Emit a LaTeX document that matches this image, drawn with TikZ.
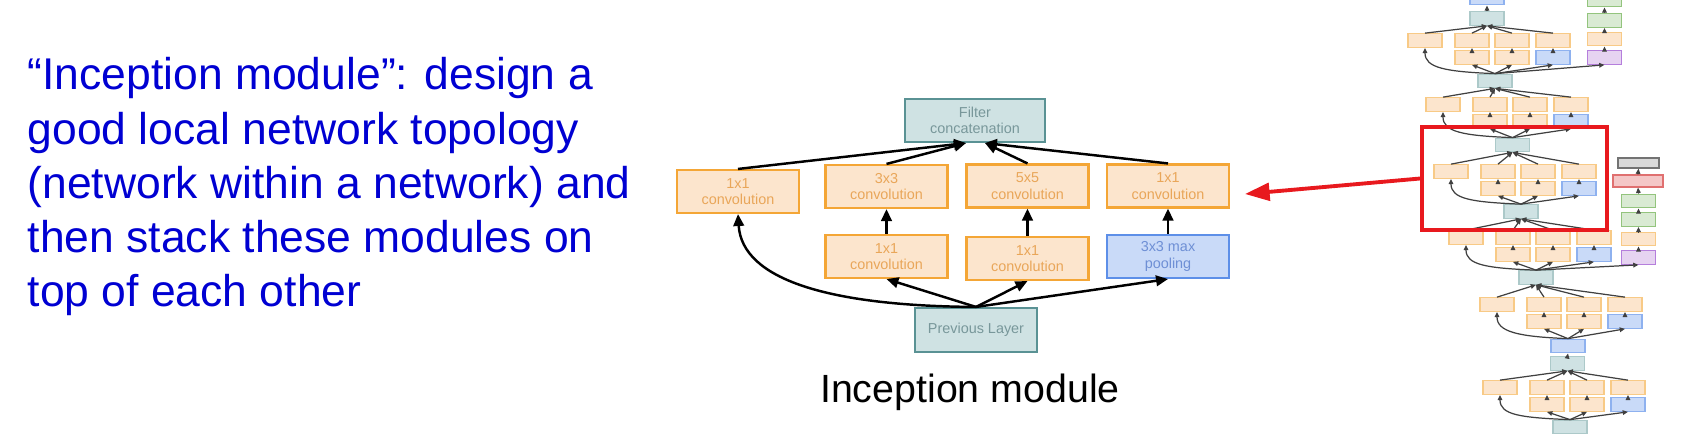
\documentclass[tikz,border=0pt]{standalone}
\usepackage{fontspec}
\setmainfont{Liberation Sans}
\usetikzlibrary{arrows.meta}

\definecolor{convfill}{HTML}{FCE5CD}
\definecolor{convline}{HTML}{F4A636}
\definecolor{convtext}{HTML}{E9A659}
\definecolor{catfill}{HTML}{CFE2E3}
\definecolor{catline}{HTML}{5A9294}
\definecolor{cattext}{HTML}{78979A}
\definecolor{poolfill}{HTML}{C9DAF8}
\definecolor{poolline}{HTML}{5D8FE8}
\definecolor{pooltext}{HTML}{6E8FD5}
\definecolor{slideblue}{HTML}{0000D2}
\definecolor{markred}{HTML}{E8191E}
\definecolor{tgreenfill}{HTML}{D9EAD3}
\definecolor{tgreenline}{HTML}{93C47D}
\definecolor{tpurpfill}{HTML}{E6D3F1}
\definecolor{tpurpline}{HTML}{B57EDC}
\definecolor{tpinkfill}{HTML}{F4C7C7}
\definecolor{tpinkline}{HTML}{E07070}

\begin{document}
\begin{tikzpicture}[x=0.1mm,y=-0.1mm]
	\tikzstyle{every node}+=[inner sep=0pt]
	\tikzstyle{conv}=[draw=convline,fill=convfill,text=convtext,line width=0.6pt,minimum width=12.2mm,minimum height=4.3mm,align=center,font=\fontsize{4.1}{4.7}\selectfont]
	\tikzstyle{maxpool}=[conv,draw=poolline,fill=poolfill,text=pooltext]
	\tikzstyle{concat}=[conv,draw=catline,fill=catfill,text=cattext]
	\tikzstyle{arr}=[line width=0.7pt,-{Triangle[length=3.4pt,width=3pt]}]
	\tikzstyle{tconv}=[draw=convline!60,fill=convfill,line width=0.35pt,minimum width=3.4mm,minimum height=1.35mm]
	\tikzstyle{tpool}=[tconv,draw=poolline!70,fill=poolfill]
	\tikzstyle{tcat}=[tconv,draw=catline!50,fill=catfill]
	\tikzstyle{tgreen}=[tconv,draw=tgreenline,fill=tgreenfill]
	\tikzstyle{tpurp}=[tconv,draw=tpurpline,fill=tpurpfill]
	\tikzstyle{tarr}=[black!75,line width=0.35pt,-{Triangle[length=1.5pt,width=1.3pt]}]
	\useasboundingbox (0,0) rectangle (1703,435);

	% slide text
	\node[anchor=north west,align=left,text=slideblue,font=\fontsize{12.65}{15.4}\selectfont] (desc) at (27,57) {``Inception module'': design a\\good local network topology\\(network within a network) and\\then stack these modules on\\top of each other};
	\node[anchor=base,font=\fontsize{11.2}{13}\selectfont] (caption) at (970,402) {Inception module};

	% inception module
	\node[concat,minimum width=14mm] (fc) at (975,120.5) {Filter\\concatenation};
	\node[conv] (c1) at (738,191.5) {1x1\\convolution};
	\node[conv] (c3) at (886.5,186.5) {3x3\\convolution};
	\node[conv] (c5) at (1027.5,186) {5x5\\convolution};
	\node[conv] (cp) at (1168,186) {1x1\\convolution};
	\node[conv] (r3) at (886.5,256.5) {1x1\\convolution};
	\node[conv] (r5) at (1027.5,258.5) {1x1\\convolution};
	\node[maxpool] (mp) at (1168,256.5) {3x3 max\\pooling};
	\node[concat,minimum height=4.4mm] (prev) at (976,330) {Previous Layer};

	\draw[arr] (c1.north) -- ([xshift=-0.9mm]fc.south);
	\draw[arr] (c3.north) -- ([xshift=-0.9mm]fc.south);
	\draw[arr] (c5.north) -- ([xshift=1mm]fc.south);
	\draw[arr] (cp.north) -- ([xshift=1mm]fc.south);
	\draw[arr] (r3.north) -- (c3.south);
	\draw[arr] (r5.north) -- (c5.south);
	\draw[arr] (mp.north) -- (cp.south);
	\draw[arr] (prev.north) .. controls (830,306) and (742,280) .. (c1.south);
	\draw[arr] (prev.north) -- (r3.south);
	\draw[arr] (prev.north) -- (r5.south);
	\draw[arr] (prev.north) -- (mp.south);

	% network thumbnail
	\node[tpool] (tb) at (1487,-2) {};
	\node[tcat] (t0) at (1487,18.5) {};
	\node[tcat] (t1) at (1495,81) {};
	\node[tcat] (t2) at (1512.5,145) {};
	\node[tcat] (t3) at (1521,211.5) {};
	\node[tcat] (t4) at (1536,277.5) {};
	\node[tpool] (mx) at (1568,346) {};
	\node[tcat] (t5) at (1567.5,363.5) {};
	\node[tcat] (t6) at (1570,427) {};
	\draw[tarr] (t0.north) -- (tb.south);
	\draw[tarr] (t5.north) -- (mx.south);
	\foreach \m/\x/\y/\up/\dn in {1/1408/34/t0/t1, 2/1426/98/t1/t2, 3/1434/165/t2/t3, 4/1449/231/t3/t4, 5/1480/298/t4/mx, 6/1483/381/t5/t6} {
		\node[tconv] (m\m-a1) at (\x+17,\y+6.5) {};
		\node[tconv] (m\m-a2) at (\x+64,\y+6.5) {};
		\node[tconv] (m\m-a3) at (\x+104,\y+6.5) {};
		\node[tconv] (m\m-a4) at (\x+145,\y+6.5) {};
		\node[tconv] (m\m-b2) at (\x+64,\y+23.5) {};
		\node[tconv] (m\m-b3) at (\x+104,\y+23.5) {};
		\node[tpool] (m\m-b4) at (\x+145,\y+23.5) {};
		\draw[tarr] (m\m-a1.north) -- (\up.south);
		\draw[tarr] (m\m-a2.north) -- (\up.south);
		\draw[tarr] (m\m-a3.north) -- (\up.south);
		\draw[tarr] (m\m-a4.north) -- (\up.south);
		\draw[tarr] (m\m-b2.north) -- (m\m-a2.south);
		\draw[tarr] (m\m-b3.north) -- (m\m-a3.south);
		\draw[tarr] (m\m-b4.north) -- (m\m-a4.south);
		\draw[tarr] (\dn.north) -- (m\m-b2.south);
		\draw[tarr] (\dn.north) -- (m\m-b3.south);
		\draw[tarr] (\dn.north) -- (m\m-b4.south);
		\draw[tarr] (\dn.north) .. controls +(-50,-2) and +(0,20) .. (m\m-a1.south);
	}

	% side classifiers
	\node[tpurp] (pa) at (1604.5,57.5) {};
	\node[tconv] (oa) at (1604.5,39) {};
	\node[tgreen] (ga) at (1604.5,20.5) {};
	\node[tgreen] (gat) at (1604.5,0) {};
	\draw[tarr] (t1.north) -- (pa.south);
	\draw[tarr] (pa.north) -- (oa.south);
	\draw[tarr] (oa.north) -- (ga.south);
	\draw[tarr] (ga.north) -- (gat.south);
	\node[tpurp] (pb) at (1638.5,257.5) {};
	\node[tconv] (ob) at (1638.5,239) {};
	\node[tgreen] (gb) at (1638.5,219.5) {};
	\node[tgreen] (gbt) at (1638.5,201) {};
	\node[tconv,draw=tpinkline,fill=tpinkfill,minimum width=5mm,minimum height=1.2mm] (kb) at (1638,181) {};
	\node[tconv,draw=black!55,fill=black!15,minimum width=4.1mm,minimum height=1mm] (sb) at (1638.5,163) {};
	\draw[tarr] (t4.north) -- (pb.south);
	\draw[tarr] (pb.north) -- (ob.south);
	\draw[tarr] (ob.north) -- (gb.south);
	\draw[tarr] (gb.north) -- (gbt.south);
	\draw[tarr] (gbt.north) -- (kb.south);
	\draw[tarr] (kb.north) -- (sb.south);

	% highlight
	\node[draw=markred,line width=1.1pt,minimum width=18.5mm,minimum height=10.3mm] (rb) at (1514.5,178.5) {};
	\coordinate (tip) at (1245,194);
	\draw[markred,line width=1.1pt,-{Triangle[length=7pt,width=5pt]}] (rb.west) -- (tip);
\end{tikzpicture}
\end{document}
